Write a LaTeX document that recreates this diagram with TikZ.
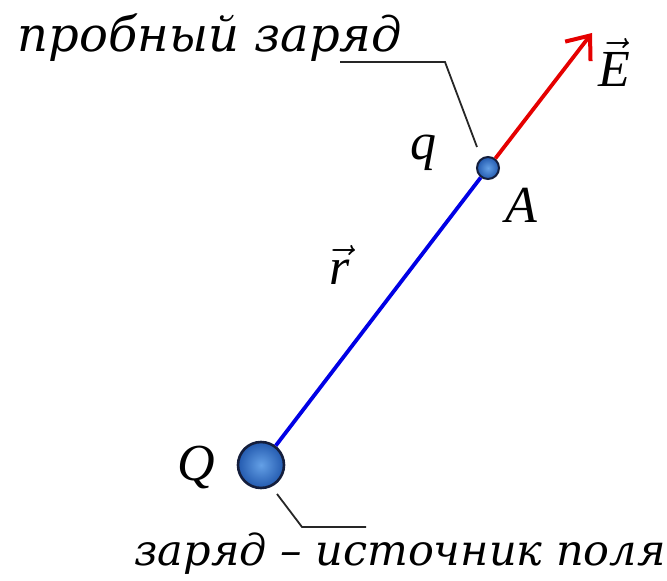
\RequirePackage{fix-cm}
\documentclass[tikz,border=0pt]{standalone}
\usepackage{fontspec}
\setmainfont{DejaVu Serif}
\newfontfamily\letterfont{Liberation Serif}
\usetikzlibrary{arrows.meta}
\definecolor{ballin}{RGB}{100,160,230}
\definecolor{ballout}{RGB}{35,90,175}
\definecolor{ballrim}{RGB}{20,30,60}

\begin{document}
\begin{tikzpicture}[
  x=1pt,y=1pt,
  font=\itshape\fontsize{43}{48}\selectfont,
  charge/.style={circle,draw=ballrim,line width=2.6pt,inner sep=0pt,
    inner color=ballin,outer color=ballout},
  letter/.style={anchor=base,font=\letterfont\itshape\fontsize{52}{58}\selectfont},
  lead/.style={draw=black!85,line width=1.8pt},
  field/.style={line width=3.8pt}
]
\useasboundingbox (0,0) rectangle (667,581);

\node[charge,minimum size=46pt] (Q) at (261,116) {};
\node[charge,minimum size=22pt,line width=2pt] (A) at (488,413) {};
\coordinate (tip) at (592,548);

\draw[field,blue!90!black] (Q) -- (A);
\draw[field,red!90!black,-{Straight Barb[length=20pt,width=32pt,line width=4pt]}] (A) -- (tip);

\node[letter] (Qlab) at (196,100) {Q};
\node[letter] (qlab) at (423,421) {q};
\node[letter] (Alab) at (521,358) {A};
\node[letter] (rlab) at (340,296) {$\vec{\mbox{\letterfont\itshape r}}$};
\node[letter] (Elab) at (614,494) {$\vec{\mbox{\letterfont\itshape E}}$};

\node[anchor=base,font=\itshape\fontsize{48}{54}\selectfont] (probe) at (210,529) {пробный заряд};
\node[anchor=base] (source) at (400,15) {заряд – источник поля};

\coordinate (pl1) at (340,519);
\coordinate (pl2) at (445,519);
\coordinate (pl3) at (477,434);
\draw[lead] (pl1) -- (pl2) -- (pl3);
\coordinate (sl1) at (277,87);
\coordinate (sl2) at (302,54);
\coordinate (sl3) at (366,54);
\draw[lead] (sl1) -- (sl2) -- (sl3);
\end{tikzpicture}
\end{document}
